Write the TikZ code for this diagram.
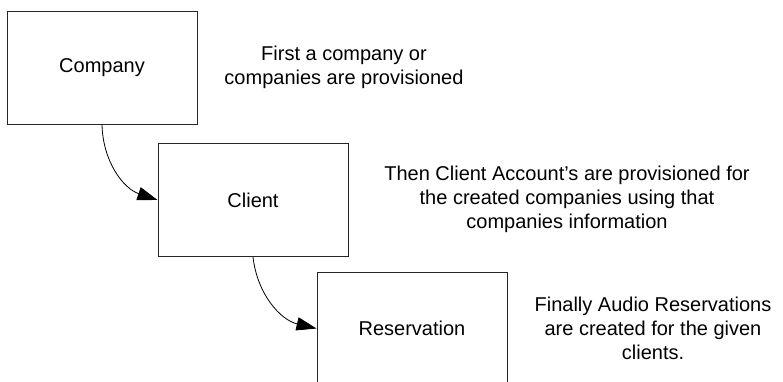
\documentclass[tikz,border=0pt]{standalone}
\usepackage{fontspec}
\setmainfont{Liberation Sans}
\usetikzlibrary{arrows.meta,positioning}

\begin{document}
\begin{tikzpicture}[x=0.75pt,y=-0.75pt,>={Triangle[length=15pt,width=10pt]},
  box/.style={rectangle,draw=black!85,line width=0.75pt,minimum width=142.5pt,
    minimum height=84.75pt,font=\fontsize{15}{18}\selectfont},
  note/.style={align=center,font=\fontsize{15}{18}\selectfont}]
  \clip (0,0) rectangle (783,382);

  \node[box] (company) at (102,67.5) {Company};
  \node[box] (client) at (253,200) {Client};
  \node[box] (reservation) at (412,328.5) {Reservation};

  \node[note] (companynote) at (344,67) {First a company or\\companies are provisioned};
  \node[note] (clientnote) at (567,199) {Then Client Account’s are provisioned for\\the created companies using that\\companies information};
  \node[note] (reservationnote) at (653,328) {Finally Audio Reservations\\are created for the given\\clients.};

  \path[->,line width=0.6pt]
  (company.south) edge [bend right=35] (client.west)
  (client.south) edge [bend right=35] (reservation.west);
\end{tikzpicture}
\end{document}
